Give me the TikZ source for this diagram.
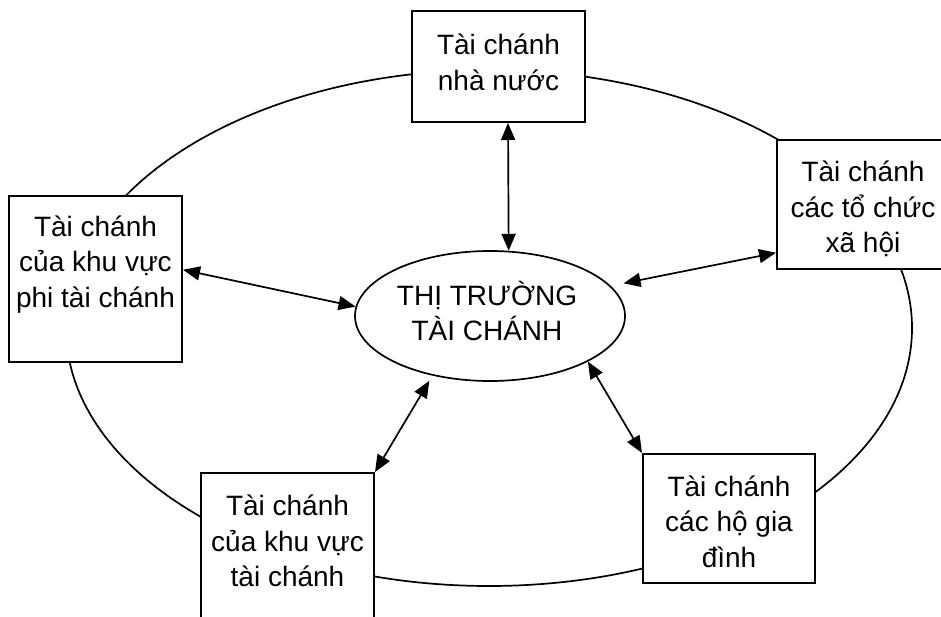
\documentclass[tikz,border=0pt]{standalone}
\usepackage{fontspec}
\setmainfont{Liberation Sans}
\usetikzlibrary{arrows.meta,shapes.geometric}
\begin{document}
\begin{tikzpicture}[x=1pt,y=-1pt,
  box/.style={draw, line width=2pt, fill=white, inner sep=0pt},
  lbl/.style={align=center, inner sep=0pt, font=\fontsize{28}{35.5}\selectfont},
  link/.style={{Triangle[length=17pt,width=14pt]}-{Triangle[length=17pt,width=14pt]}, line width=1.7pt}]
\useasboundingbox (0,0) rectangle (941,617);
\clip (0,0) rectangle (941,617);

% outer ring linking the financial sectors
\draw[line width=1.7pt] (489,328) ellipse [x radius=423, y radius=258];

% sector boxes
\node[box, minimum width=173pt, minimum height=111pt] (gov)    at (498.5,66.5) {};
\node[box, minimum width=172pt, minimum height=129pt] (soc)    at (863,204.5)  {};
\node[box, minimum width=173pt, minimum height=166pt] (nonfin) at (95.5,279)   {};
\node[box, minimum width=173pt, minimum height=174pt] (fin)    at (287.5,560)  {};
\node[box, minimum width=172pt, minimum height=129pt] (hh)     at (729,518.5)  {};

\node[lbl] (gov-t)    at (498.5,62.5) {Tài chánh\\nhà nước};
\node[lbl] (soc-t)    at (863,209)    {Tài chánh\\các tổ chức\\xã hội};
\node[lbl] (nonfin-t) at (95.5,264.5) {Tài chánh\\của khu vực\\phi tài chánh};
\node[lbl] (fin-t)    at (287.5,541)  {Tài chánh\\của khu vực\\tài chánh};
\node[lbl] (hh-t)     at (729,521.5)  {Tài chánh\\các hộ gia\\đình};

% central market
\node[draw, ellipse, line width=1.7pt, minimum width=270pt, minimum height=130pt, inner sep=0pt] (mkt) at (490,316) {};
\node[lbl] (mkt-t) at (487,311) {THỊ TRƯỜNG\\TÀI CHÁNH};

% two-way flows
\draw[link] ([xshift=9.5pt]gov.south) -- (mkt.74);
\draw[link] (nonfin.6) -- (mkt.176);
\draw[link, shorten <=13pt] (mkt.14) -- (soc.209);
\draw[link, shorten <=6pt] (mkt.226) -- (fin.north east);
\draw[link] (mkt.335) -- (hh.north west);
\end{tikzpicture}
\end{document}
